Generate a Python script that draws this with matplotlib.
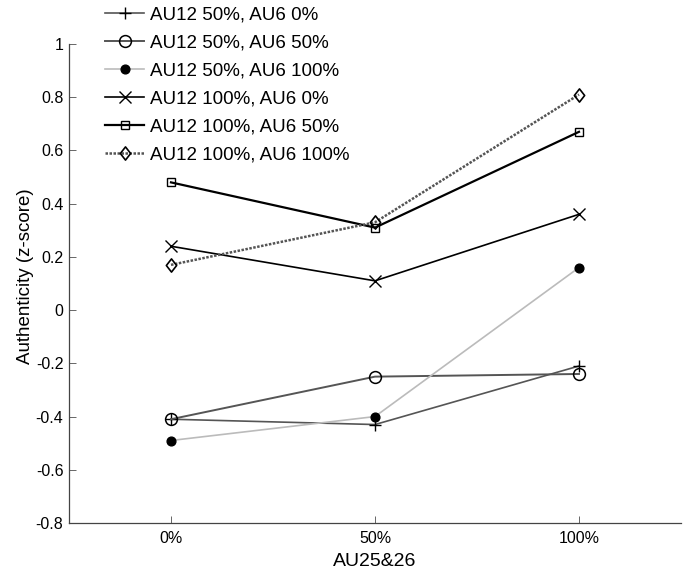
import matplotlib
matplotlib.use("Agg")
import matplotlib.pyplot as plt
from matplotlib.path import Path

plt.rcParams['font.family'] = ['Liberation Sans', 'DejaVu Sans']

categories = ['0%', '50%', '100%']
labels = ['AU12 50%, AU6 0%', 'AU12 50%, AU6 50%', 'AU12 50%, AU6 100%',
          'AU12 100%, AU6 0%', 'AU12 100%, AU6 50%', 'AU12 100%, AU6 100%']
s1 = [-0.41, -0.43, -0.21]
s2 = [-0.41, -0.25, -0.24]
s3 = [-0.49, -0.40, 0.16]
s4 = [0.24, 0.11, 0.36]
s5 = [0.48, 0.31, 0.67]
s6 = [0.17, 0.33, 0.81]
series = [s1, s2, s3, s4, s5, s6]

diamond = Path([(0, 1), (0.78, 0), (0, -1), (-0.78, 0), (0, 1)],
               [Path.MOVETO, Path.LINETO, Path.LINETO, Path.LINETO, Path.CLOSEPOLY])

styles = [
    dict(color='#555555', marker='+', ms=8.5, mfc='none', mec='black', ls='-', lw=1.2, mew=1.0),
    dict(color='#555555', marker='o', ms=8.5, mfc='none', mec='black', ls='-', lw=1.4, mew=1.1),
    dict(color='#bbbbbb', marker='o', ms=6.3, mfc='black', mec='black', ls='-', lw=1.2),
    dict(color='black', marker='x', ms=8, mfc='none', mec='black', ls='-', lw=1.2, mew=1.0),
    dict(color='black', marker='s', ms=6, mfc='none', mec='black', ls='-', lw=1.6, mew=1.0),
    dict(color='#555555', marker=diamond, ms=9.5, mfc='none', mec='black', ls=(0, (1, 0.6)), lw=1.8, mew=1.2),
]

fig = plt.figure(figsize=(6.85, 5.77), dpi=100)
ax = fig.add_axes([69/685, 54/577, 612/685, 479/577])
x = list(range(len(categories)))
handles = []
for y, lab, st in zip(series, labels, styles):
    h, = ax.plot(x, y, label=lab, **st)
    handles.append(h)

ax.set_xlim(-0.5, 2.5)
ax.set_ylim(-0.8, 1.0)
ax.set_xticks(x)
ax.set_xticklabels(categories)
ax.set_yticks([-0.8, -0.6, -0.4, -0.2, 0, 0.2, 0.4, 0.6, 0.8, 1])
ax.set_yticklabels(['-0.8', '-0.6', '-0.4', '-0.2', '0', '0.2', '0.4', '0.6', '0.8', '1'])
for s in ['top', 'right']:
    ax.spines[s].set_visible(False)
for s in ['left', 'bottom']:
    ax.spines[s].set_color('#444444')
    ax.spines[s].set_linewidth(0.9)
ax.tick_params(direction='in', length=5, width=0.7, color='#666666', labelsize=11.5)
ax.tick_params(axis='x', pad=6)
ax.tick_params(axis='y', pad=4)
ax.set_xlabel('AU25&26', fontsize=14, labelpad=5)
ax.set_ylabel('Authenticity (z-score)', fontsize=13.5, labelpad=1)
ax.yaxis.label.set_y(0.516)

fig.legend(handles=handles, loc='upper left', bbox_to_anchor=(104/685, 1.0 - 5/577),
           frameon=False, fontsize=13.5, handlelength=2.1, handletextpad=0.28,
           labelspacing=0.59, borderaxespad=0, borderpad=0.05)

fig.savefig('out.png', dpi=100)
